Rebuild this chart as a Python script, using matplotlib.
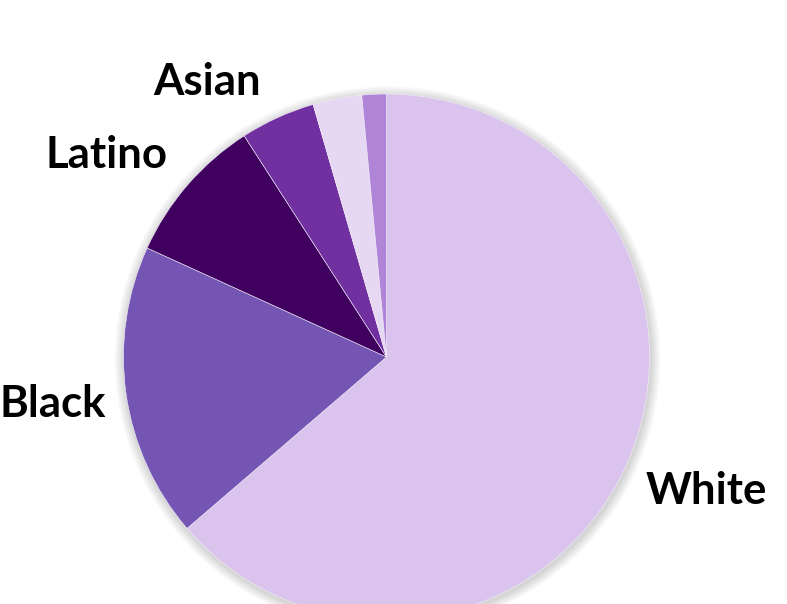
import numpy as np
import matplotlib
matplotlib.use('Agg')
import matplotlib.pyplot as plt
from matplotlib.patches import Circle

# Datos (porcentajes, sentido horario desde las 12)
grupos = ['White', 'Black', 'Latino', 'Asian', 'Other', 'Multiracial']
valores = [63.7, 18.1, 9.1, 4.6, 3.0, 1.5]
etiquetas = ['White', 'Black', 'Latino', 'Asian', '', '']

# Estilo
colores = ['#DAC3EC', '#7455B3', '#3F005F', '#7030A0', '#E6D8F2', '#B085D8']
# ajuste de la posición de cada etiqueta: (desplazamiento angular, distancia relativa)
ajuste_etq = [(2.5, 1.315), (-0.7, 1.28), (4.5, 1.32), (8.3, 1.26), (0, 0), (0, 0)]
baja_etq = 4  # px, corrección vertical de la fuente

W, H = 787, 604
centro = (386.5, H - 357)
radio = 263

fig = plt.figure(figsize=(W / 100, H / 100), dpi=100)
ax = fig.add_axes([0, 0, 1, 1])

# Sombra suave alrededor de la tarta
for k in range(14):
    ax.add_patch(Circle((centro[0] + 1, centro[1] - 2), radio + 1 + k * 0.7,
                        color='#000000', alpha=0.012, lw=0, zorder=1))

wedges, _ = ax.pie(valores, colors=colores, startangle=90, counterclock=False,
                   center=centro, radius=radio, frame=True,
                   wedgeprops=dict(linewidth=0.4, edgecolor='#f4eefa', zorder=2))
ax.set_xlim(0, W)
ax.set_ylim(0, H)
ax.axis('off')

for w, etq, (dang, dist) in zip(wedges, etiquetas, ajuste_etq):
    if not etq:
        continue
    ang = np.deg2rad((w.theta1 + w.theta2) / 2 + dang)
    x = centro[0] + radio * dist * np.cos(ang)
    y = centro[1] + radio * dist * np.sin(ang) - baja_etq
    ax.text(x, y, etq, ha='center', va='center', fontsize=31.5,
            fontweight='bold', family='Lato', color='black', zorder=5)

plt.savefig('out.png', dpi=100)
plt.close()
